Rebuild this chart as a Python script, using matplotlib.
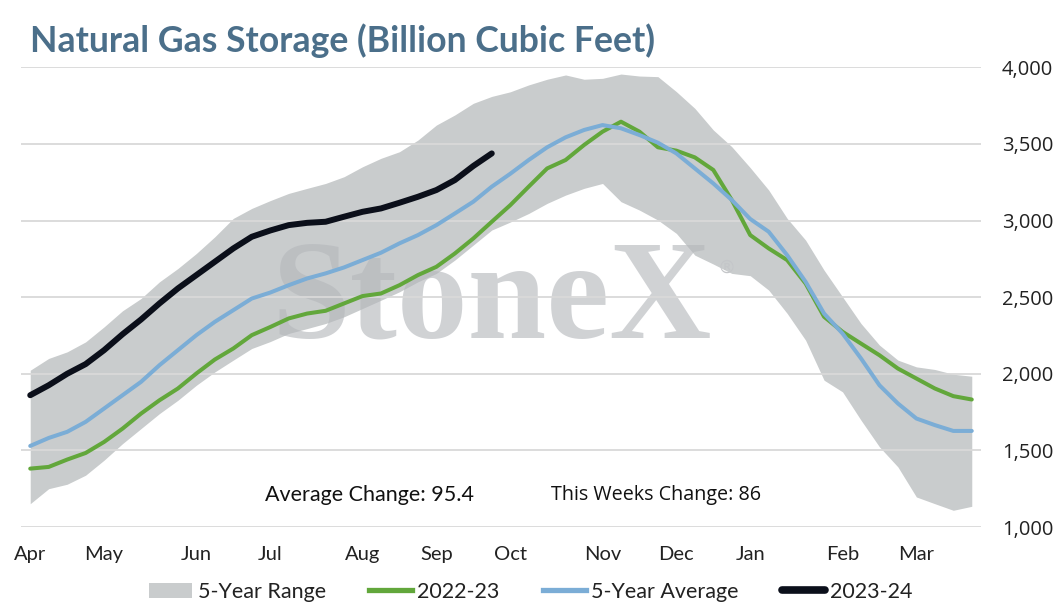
import matplotlib
matplotlib.use("Agg")
import matplotlib.pyplot as plt
from matplotlib.lines import Line2D
from matplotlib.patches import Patch

# ---------------- data (weekly, Apr -> Mar) ----------------
weeks = list(range(52))
month_labels = ["Apr", "May", "Jun", "Jul", "Aug", "Sep", "Oct", "Nov", "Dec", "Jan", "Feb", "Mar"]
month_weeks = [0, 4, 9, 13, 18, 22, 26, 31, 35, 39, 44, 48]

range_high = [2023, 2100, 2143, 2208, 2306, 2411, 2491, 2600, 2687, 2785, 2894, 3014, 3079,
              3130, 3177, 3210, 3242, 3286, 3351, 3406, 3449, 3525, 3623, 3689, 3765, 3810,
              3840, 3885, 3922, 3950, 3922, 3928, 3956, 3943, 3939, 3841, 3732, 3591, 3482,
              3345, 3199, 3014, 2872, 2676, 2502, 2328, 2187, 2089, 2045, 2028, 1997, 1984]
range_low = [1152, 1250, 1279, 1338, 1436, 1544, 1642, 1740, 1827, 1925, 2012, 2089, 2165,
             2210, 2263, 2295, 2328, 2372, 2426, 2480, 2535, 2600, 2655, 2742, 2840, 2938,
             2990, 3046, 3112, 3166, 3210, 3242, 3123, 3068, 3003, 2916, 2774, 2716, 2655,
             2640, 2546, 2394, 2219, 1958, 1882, 1697, 1523, 1392, 1196, 1152, 1109, 1135]
y2022_23 = [1381, 1392, 1440, 1483, 1555, 1642, 1740, 1827, 1904, 2002, 2093, 2165, 2252,
            2305, 2361, 2393, 2411, 2459, 2507, 2524, 2578, 2644, 2698, 2785, 2883, 2992,
            3100, 3221, 3340, 3395, 3493, 3580, 3645, 3580, 3478, 3456, 3412, 3330, 3134,
            2905, 2818, 2742, 2589, 2372, 2274, 2197, 2121, 2034, 1969, 1904, 1854, 1832]
avg_5yr = [1529, 1581, 1621, 1686, 1773, 1860, 1947, 2056, 2154, 2252, 2339, 2415, 2491,
           2530, 2578, 2622, 2655, 2694, 2742, 2790, 2851, 2905, 2970, 3046, 3123, 3221,
           3305, 3395, 3478, 3543, 3591, 3623, 3602, 3558, 3508, 3438, 3340, 3242, 3134,
           3010, 2927, 2774, 2600, 2393, 2263, 2100, 1925, 1806, 1708, 1665, 1627, 1627]
y2023_24 = [1860, 1925, 2000, 2063, 2154, 2258, 2354, 2459, 2557, 2644, 2731, 2818, 2894,
            2935, 2970, 2985, 2992, 3025, 3057, 3079, 3116, 3155, 3199, 3264, 3356, 3438]

yticks = [1000, 1500, 2000, 2500, 3000, 3500, 4000]
title = "Natural Gas Storage (Billion Cubic Feet)"
avg_change_text = "Average Change: 95.4"
week_change_text = "This Weeks Change: 86"

# ---------------- styling ----------------
c_range = "#c9cccd"
c_green = "#62a73b"
c_blue = "#7badd6"
c_black = "#0b0f1a"
c_title = "#4b6f8a"
c_grid = "#d9d9d9"

W, H = 1059, 613
fig = plt.figure(figsize=(W / 100, H / 100), dpi=100)
fig.patch.set_facecolor("white")
ax = fig.add_axes([21 / W, 1 - 527 / H, (981 - 21) / W, (527 - 67.3) / H])

ax.fill_between(weeks, range_low, range_high, color=c_range, lw=0, zorder=1)
ax.text(0.49, 0.411, "StoneX", transform=ax.transAxes, ha="center", va="baseline",
        fontsize=102, family="Liberation Serif", weight="bold", color="#b4b7bb",
        alpha=0.62, zorder=1.5)
ax.text(0.735, 0.563, "®", transform=ax.transAxes, ha="center", va="center",
        fontsize=13, family="DejaVu Sans", color="#c4c6c9", zorder=1.5)

ax.plot(weeks, y2022_23, color=c_green, lw=2.9, zorder=3, solid_capstyle="round")
ax.plot(weeks, avg_5yr, color=c_blue, lw=2.9, zorder=3, solid_capstyle="round")
ax.plot(weeks[:len(y2023_24)], y2023_24, color=c_black, lw=4.3, zorder=4,
        solid_capstyle="round")

ax.set_xlim(-0.5, 51.5)
ax.set_ylim(1000, 4000)
ax.set_yticks(yticks)
ax.set_yticklabels([f"{v:,}" for v in yticks], family="Open Sans", fontsize=14.5,
                   color="#222222")
ax.yaxis.tick_right()
ax.set_xticks(month_weeks)
ax.set_xticklabels(month_labels, family="Lato", fontsize=14.5, color="#222222")
ax.tick_params(axis="y", length=0, pad=15)
ax.tick_params(axis="x", length=0, pad=14)
ax.grid(axis="y", color=c_grid, lw=1.3, zorder=2)
ax.set_axisbelow(False)
for g in ax.get_ygridlines():
    g.set_zorder(2)
for s in ax.spines.values():
    s.set_visible(False)
ax.set_facecolor("none")

ax.text(18.4, 1209, avg_change_text, ha="center", va="center", family="Lato",
        fontsize=15.5, color="#111111", zorder=5)
ax.text(33.9, 1209, week_change_text, ha="center", va="center", family="Open Sans",
        fontsize=14.2, color="#111111", zorder=5)

fig.text(30 / W, 1 - 52 / H, title, ha="left", va="baseline", family="Lato",
         weight="bold", fontsize=25.7, color=c_title)

handles = [
    Patch(facecolor=c_range, edgecolor="none"),
    Line2D([0], [0], color=c_green, lw=3.8),
    Line2D([0], [0], color=c_blue, lw=3.8),
    Line2D([0], [0], color=c_black, lw=5.5, solid_capstyle="round"),
]
labels = ["5-Year Range", "2022-23", "5-Year Average", "2023-24"]
fig.legend(handles, labels, loc="center", bbox_to_anchor=(531 / W, 1 - 592 / H),
           ncol=4, frameon=False, prop={"family": "Lato", "size": 15.5},
           handlelength=2.0, handletextpad=0.25, columnspacing=2.0,
           labelcolor="#222222")

fig.savefig("out.png", dpi=100, facecolor="white")
